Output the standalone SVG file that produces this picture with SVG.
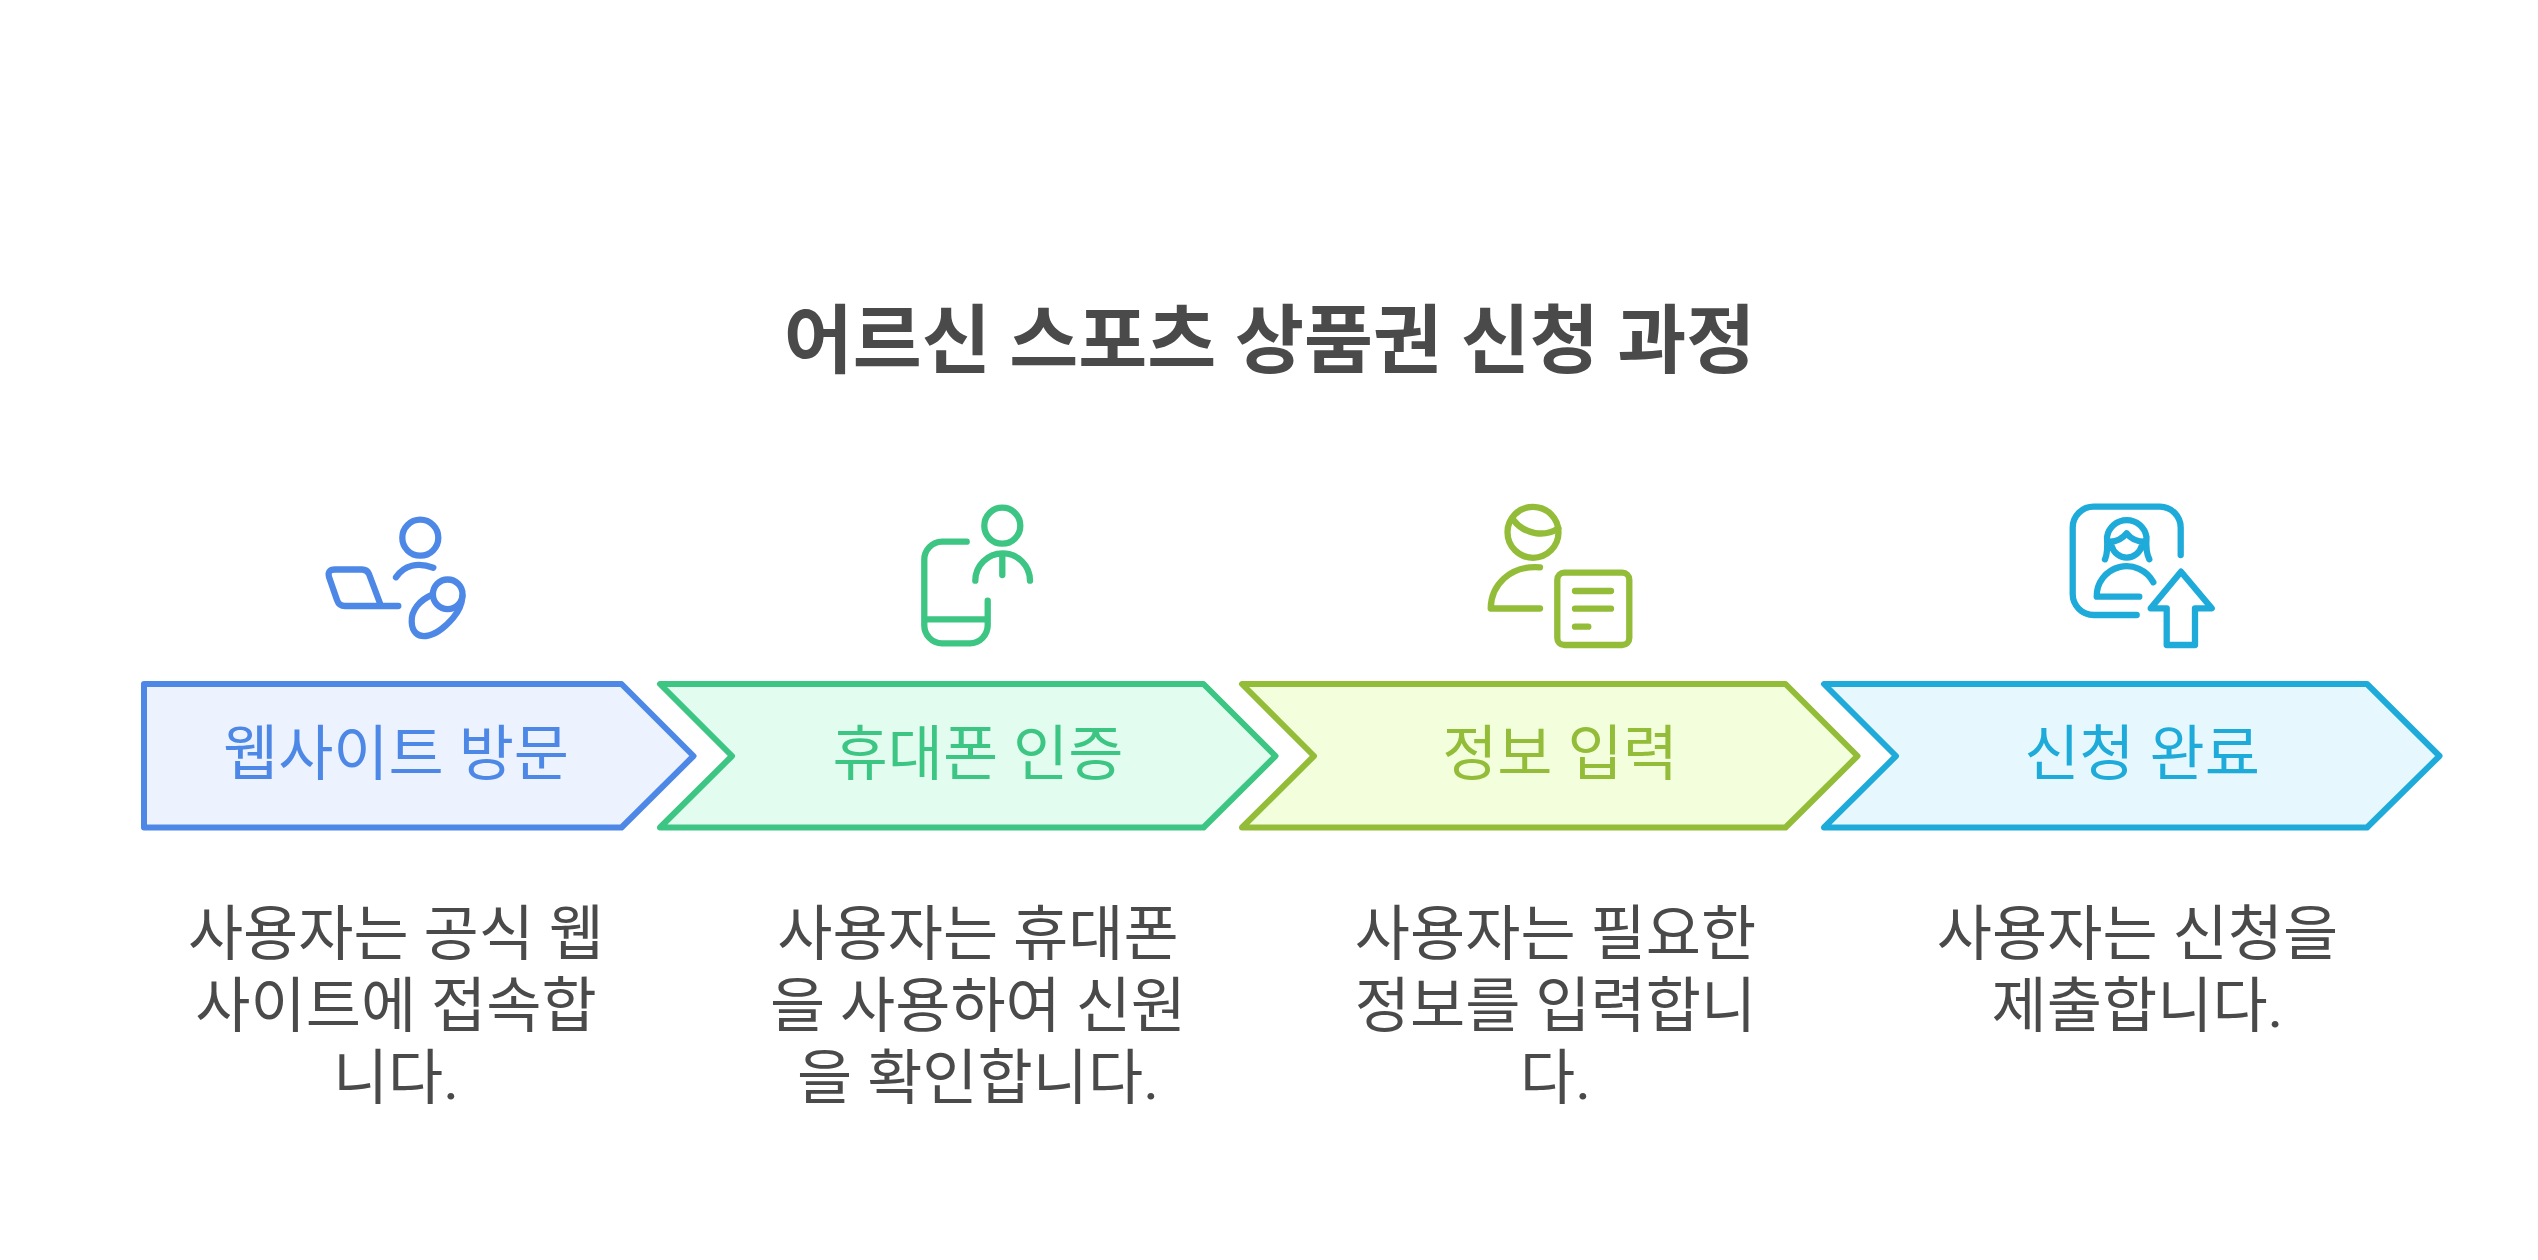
<svg xmlns="http://www.w3.org/2000/svg" width="2538" height="1260" viewBox="0 0 2538 1260">
<style>
text{font-family:Roboto,"Noto Sans CJK KR",sans-serif;text-anchor:middle;font-size:60px;fill:#4a4a4a}
.title{font-size:75px;font-weight:700}
.s{stroke-width:6;stroke-linejoin:round}
.i{fill:none;stroke-width:6.300;stroke-linecap:round;stroke-linejoin:round}
.b{stroke:#4e88e7}.g{stroke:#3cc583}.o{stroke:#93bd39}.c{stroke:#1eabda}
</style>
<rect width="2538" height="1260" fill="#fff"/>
<text id="title" class="title" x="1269.500" y="367">어르신 스포츠 상품권 신청 과정</text>
<g id="step1">
<path class="s b" fill="#edf3fe" d="M144 684H621.500L693.500 756L621.500 827.500H144Z"/>
<text x="396" y="775" style="fill:#4e88e7">웹사이트 방문</text>
<g class="i b"><circle cx="420.300" cy="537.700" r="18"/><path d="M396 577.300C404 565 418 562 433.300 567.700"/><path d="M398.300 606H345Q339 606 337 600L329 577Q327 569.500 335 569.500H362Q367 569.500 369 574L381 606"/><circle cx="447.700" cy="594.300" r="14.800"/><path d="M431.700 595C420 600 411 610 411.700 622C412 632 418 637 426 636C436 635 447 625 453 618C459 611 462 604 462.500 596"/></g>
<text x="396" y="955">사용자는 공식 웹</text><text x="396" y="1027">사이트에 접속합</text><text x="396" y="1099">니다.</text>
</g>
<g id="step2">
<path class="s g" fill="#e2fdf0" d="M660 684H1203.500L1275.500 756L1203.500 827.500H660L732 756Z"/>
<text x="978" y="775" style="fill:#3cc583">휴대폰 인증</text>
<g class="i g"><circle cx="1002.300" cy="525.700" r="18"/><path d="M975.300 580.700A27.300 27.300 0 0 1 1030 580.700M1002.300 555V575M966.700 541.700H942A18 18 0 0 0 924.300 560V625A18 18 0 0 0 942 643.300H970A18 18 0 0 0 987.700 625V600.700M924.300 619.300H987.700"/></g>
<text x="978" y="955">사용자는 휴대폰</text><text x="978" y="1027">을 사용하여 신원</text><text x="978" y="1099">을 확인합니다.</text>
</g>
<g id="step3">
<path class="s o" fill="#f3ffdc" d="M1242 684H1785.500L1857.500 756L1785.500 827.500H1242L1314 756Z"/>
<text x="1560" y="775" style="fill:#93bd39">정보 입력</text>
<g class="i o"><circle cx="1533" cy="532.300" r="25.500"/><path d="M1513.300 520C1525 535 1545 537 1558.300 528.300M1540 567.300C1510 565 1491 585 1490.700 608.500H1540"/><rect x="1557.300" y="572.700" width="72" height="72.300" rx="7"/><path d="M1575 591H1611M1575 608.700H1611M1575 626.700H1588.300"/></g>
<text x="1555.500" y="955">사용자는 필요한</text><text x="1555.500" y="1027">정보를 입력합니</text><text x="1555.500" y="1099">다.</text>
</g>
<g id="step4">
<path class="s c" fill="#e6f8fe" d="M1824 684H2367L2439.500 756L2367 827.500H1824L1896 756Z"/>
<text x="2142" y="775" style="fill:#1eabda">신청 완료</text>
<g class="i c"><path d="M2180.700 555V528A21 21 0 0 0 2160 506.700H2094A21 21 0 0 0 2072.700 528V594A21 21 0 0 0 2094 615H2136.700"/><path d="M2105 559.300C2108 553 2107.500 545 2107 537A20 20 0 0 1 2146.500 537C2146 545 2146 553 2149.300 559.300M2110 541.700Q2120 541.700 2126.700 533.300Q2133 541.700 2145 541.700M2111.700 546A15.500 15.500 0 0 0 2141.700 546"/><path d="M2153.300 582.300A30 30 0 0 0 2096.700 596.700H2139.300"/><path d="M2181 571.700L2211.700 608.300H2195V645H2166.700V608.300H2150.700Z"/></g>
<text x="2137.500" y="955">사용자는 신청을</text><text x="2137.500" y="1027">제출합니다.</text>
</g>
</svg>
